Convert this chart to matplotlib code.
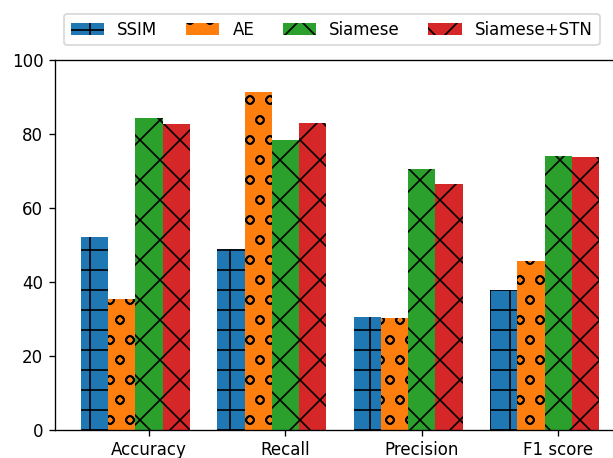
import numpy as np
import matplotlib
matplotlib.use("Agg")
import matplotlib.pyplot as plt

categories = ["Accuracy", "Recall", "Precision", "F1 score"]
series_names = ["SSIM", "AE", "Siamese", "Siamese+STN"]
ssim = [52.0, 48.8, 30.4, 37.8]
ae = [35.4, 91.2, 30.3, 45.6]
siamese = [84.3, 78.3, 70.5, 74.1]
siamese_stn = [82.6, 82.9, 66.3, 73.8]
hatches = ["+", "o", "x", "x"]
colors = ["#1f77b4", "#ff7f0e", "#2ca02c", "#d62728"]

fig = plt.figure(figsize=(613 / 120, 458 / 120), dpi=120)
ax = fig.add_axes([55 / 613, 28.3 / 458, 570 / 613, 370 / 458])

x = np.arange(len(categories))
w = 0.2
offsets = [-2 * w, -w, 0, w]
all_vals = [ssim, ae, siamese, siamese_stn]
for vals, name, h, c, off in zip(all_vals, series_names, hatches, colors, offsets):
    ax.bar(x + off, vals, width=w, color=c, hatch=h, label=name)

ax.set_xticks(x)
ax.set_xticklabels(categories)
ax.set_ylim(0, 100)

fig.legend(loc="upper left", bbox_to_anchor=(64 / 613, 1 - 14 / 458),
           ncol=4, borderaxespad=0, columnspacing=1.7)

fig.savefig("out.png", dpi=120)
